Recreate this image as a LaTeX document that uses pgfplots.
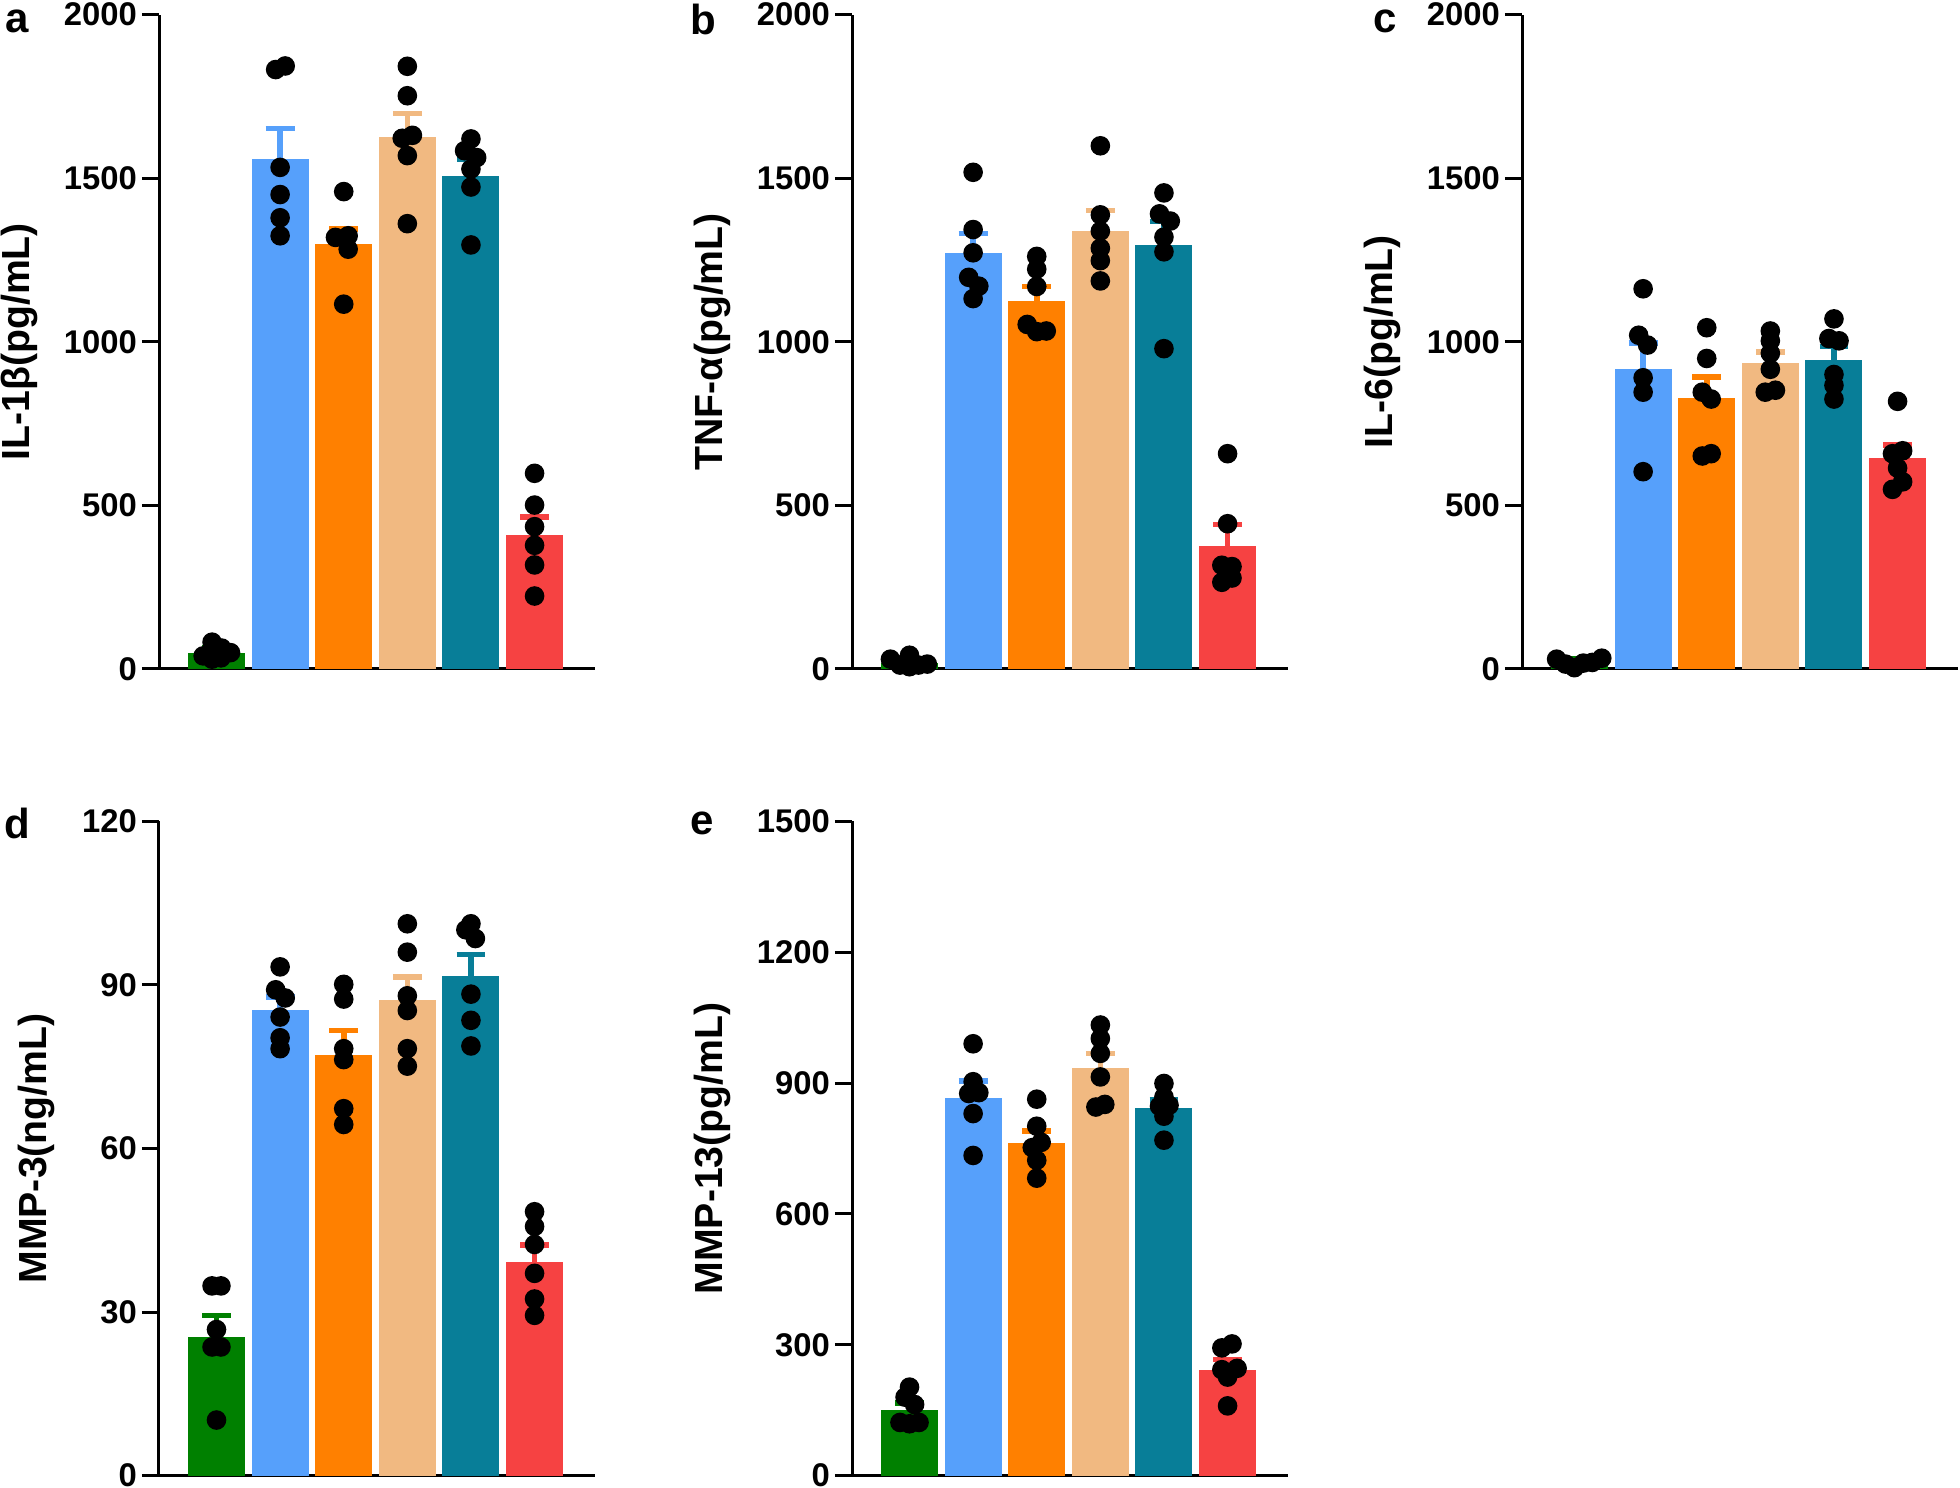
\documentclass[border=0pt]{standalone}
\usepackage{fontspec}
\setmainfont{Liberation Sans}
\usepackage{pgfplots}
\pgfplotsset{compat=1.18}
\definecolor{cg}{RGB}{0,128,0}
\definecolor{cb}{RGB}{86,160,251}
\definecolor{co}{RGB}{255,128,0}
\definecolor{ct}{RGB}{241,185,129}
\definecolor{ce}{RGB}{8,126,152}
\definecolor{cr}{RGB}{246,66,66}

\newcommand{\mybar}[4]{%
 \addplot[ybar, bar width=14.25pt, bar shift=0pt, fill=#4, draw=none,
   error bars/.cd, y dir=plus, y explicit,
   error bar style={line width=1.4pt, #4},
   error mark options={rotate=90, line width=1.4pt, #4, mark size=3.6pt}]
   coordinates {(#1,#2) +- (0,#3)};
}
\newcommand{\pts}[1]{%
 \addplot[only marks, mark=*, mark size=2.25pt, black] coordinates {#1};
}

\pgfplotsset{panel/.style={
  scale only axis, width=109pt, height=163.6pt,
  anchor=south west,
  xmin=-0.904, xmax=5.95, ymin=0,
  axis x line*=bottom, axis y line*=left,
  xtick=\empty,
  tick align=outside, major tick length=4.3pt,
  axis line style={line width=0.75pt, black},
  every tick/.style={line width=0.75pt, black},
  yticklabel style={font=\bfseries\fontsize{8.2}{9}\selectfont, xshift=2.3pt},
  /pgf/number format/assume math mode=true,
  /pgf/number format/1000 sep={},
  ylabel style={font=\bfseries\fontsize{9.8}{11}\selectfont, anchor=center},
  clip=false,
}}

\begin{document}
\begin{tikzpicture}
\path[use as bounding box] (0,0) rectangle (490pt,372pt);

% ---------- a ----------
\begin{axis}[panel, at={(39.75pt,204.75pt)}, ymax=2000, ytick={0,500,1000,1500,2000},
  ylabel={IL-1β(pg/mL)}, ylabel style={at={(axis description cs:-0.321,0.5)}}]
\mybar{0}{49}{16}{cg}
\mybar{1}{1559}{93}{cb}
\mybar{2}{1298}{47}{co}
\mybar{3}{1627}{71}{ct}
\mybar{4}{1508}{51}{ce}
\mybar{5}{410}{54}{cr}
\pts{(-0.07,82)(-0.21,40)(0.08,64)(0.22,50)(-0.07,30)(0.07,34)}
\pts{(0.93,1832)(1.08,1843)(1,1533)(1,1450)(1,1379)(1,1324)}
\pts{(2,1459)(1.87,1319)(2.07,1324)(2.07,1283)(2,1115)}
\pts{(3,1842)(3,1752)(2.92,1622)(3.08,1631)(3,1569)(3,1361)}
\pts{(4,1620)(3.9,1584)(4.09,1563)(4,1528)(4,1473)(4,1296)}
\pts{(5,598)(5,501)(5,435)(5,378)(5,318)(5,223)}
\end{axis}

% ---------- b ----------
\begin{axis}[panel, at={(213pt,204.75pt)}, ymax=2000, ytick={0,500,1000,1500,2000},
  ylabel={TNF-α(pg/mL)}, ylabel style={at={(axis description cs:-0.321,0.5)}}]
\mybar{0}{19}{12}{cg}
\mybar{1}{1271}{60}{cb}
\mybar{2}{1125}{44}{co}
\mybar{3}{1339}{62}{ct}
\mybar{4}{1297}{71}{ce}
\mybar{5}{377}{65}{cr}
\pts{(-0.30,30)(0,42)(-0.15,12)(0,7)(0.14,12)(0.28,15)}
\pts{(1,1518)(1,1343)(1,1272)(0.93,1197)(1.09,1170)(1,1132)}
\pts{(2,1261)(2,1222)(2,1169)(1.85,1053)(2,1031)(2.15,1033)}
\pts{(3,1599)(3,1388)(3,1338)(3,1286)(3,1248)(3,1186)}
\pts{(4,1455)(3.93,1391)(4.1,1369)(4,1320)(4,1275)(4,979)}
\pts{(5,658)(5,444)(4.91,317)(5.07,313)(4.91,265)(5.07,278)}
\end{axis}

% ---------- c ----------
\begin{axis}[panel, at={(380.5pt,204.75pt)}, ymax=2000, ytick={0,500,1000,1500,2000},
  ylabel={IL-6(pg/mL)}, ylabel style={at={(axis description cs:-0.321,0.5)}}]
\mybar{0}{19}{11}{cg}
\mybar{1}{917}{80}{cb}
\mybar{2}{829}{64}{co}
\mybar{3}{934}{34}{ct}
\mybar{4}{945}{41}{ce}
\mybar{5}{644}{41}{cr}
\pts{(-0.36,30)(-0.22,15)(-0.08,4)(0.06,18)(0.2,20)(0.35,33)}
\pts{(1,1162)(0.93,1020)(1.07,990)(1,890)(1,846)(1,603)}
\pts{(2,1043)(2,949)(1.93,846)(2.07,825)(1.93,651)(2.07,658)}
\pts{(3,1033)(3,1003)(3,965)(3,916)(2.92,846)(3.08,852)}
\pts{(4,1070)(3.92,1010)(4.08,1003)(4,900)(4,867)(4,825)}
\pts{(5,818)(4.92,658)(5.08,667)(5,614)(4.92,549)(5.08,572)}
\end{axis}

% ---------- d ----------
\begin{axis}[panel, at={(39.75pt,3.08pt)}, ymax=120, ytick={0,30,60,90,120},
  ylabel={MMP-3(ng/mL)}, ylabel style={at={(axis description cs:-0.282,0.5)}}]
\mybar{0}{25.5}{3.9}{cg}
\mybar{1}{85.4}{2.4}{cb}
\mybar{2}{77.2}{4.4}{co}
\mybar{3}{87.2}{4.2}{ct}
\mybar{4}{91.6}{4.0}{ce}
\mybar{5}{39.1}{3.2}{cr}
\pts{(-0.07,34.8)(0.07,34.8)(0,26.8)(-0.07,23.6)(0.07,23.6)(0,10.2)}
\pts{(1,93.3)(0.93,89.1)(1.08,87.6)(1,84.1)(1,80.3)(1,78.3)}
\pts{(2,90.1)(2,87.4)(2,78.3)(2,76.3)(2,67.3)(2,64.4)}
\pts{(3,101.2)(3,96.0)(3,88.0)(3,85.3)(3,78.3)(3,75.1)}
\pts{(4,101.2)(3.92,100.1)(4.07,98.5)(4,88.3)(4,83.5)(4,78.8)}
\pts{(5,48.4)(5,45.7)(5,42.4)(5,37.1)(5,32.4)(5,29.4)}
\end{axis}

% ---------- e ----------
\begin{axis}[panel, at={(213pt,3.08pt)}, ymax=1500, ytick={0,300,600,900,1200,1500},
  ylabel={MMP-13(pg/mL)}, ylabel style={at={(axis description cs:-0.321,0.5)}}]
\mybar{0}{151}{16}{cg}
\mybar{1}{865}{39}{cb}
\mybar{2}{763}{27}{co}
\mybar{3}{935}{33}{ct}
\mybar{4}{842}{19}{ce}
\mybar{5}{243}{23}{cr}
\pts{(0,203)(-0.07,180)(0.08,163)(-0.15,122)(0,119)(0.15,122)}
\pts{(1,990)(1,903)(0.93,876)(1.09,878)(1,830)(1,734)}
\pts{(2,863)(2,801)(2.07,764)(1.93,752)(2,723)(2,682)}
\pts{(3,1033)(3,1002)(3,968)(3,914)(2.93,845)(3.07,851)}
\pts{(4,899)(4,868)(3.93,847)(4.08,849)(4,824)(4,769)}
\pts{(4.91,293)(5.07,302)(4.91,243)(5.15,246)(5,226)(5,160)}
\end{axis}

% panel letters
\begin{scope}[every node/.style={font=\bfseries\fontsize{10.5}{11}\selectfont, inner sep=0pt}]
\node at (4.25pt,366.75pt) {a};
\node at (175.75pt,367.1pt) {b};
\node at (346.25pt,366.75pt) {c};
\node at (4.25pt,166.25pt) {d};
\node at (175.5pt,166.1pt) {e};
\end{scope}
\end{tikzpicture}
\end{document}
